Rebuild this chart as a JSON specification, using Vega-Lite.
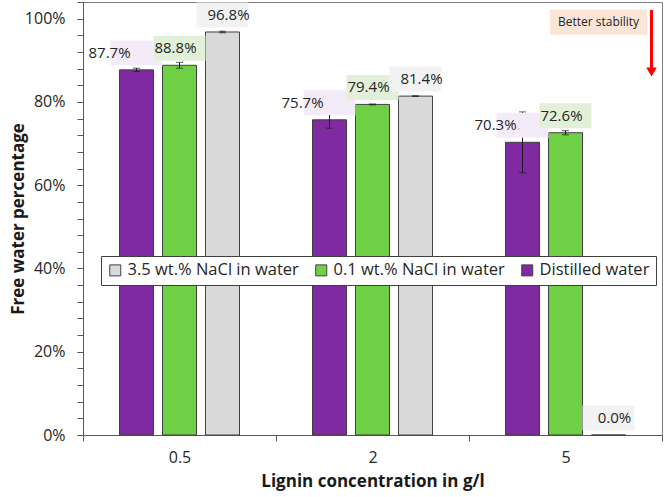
{
  "$schema": "https://vega.github.io/schema/vega-lite/v6.json",
  "width": 579,
  "height": 433,
  "autosize": {"type": "none"},
  "padding": {"left": 83, "top": 2, "right": 2, "bottom": 62},
  "config": {
    "font": "Open Sans",
    "view": {"stroke": "#7f7f7f"},
    "axis": {"domainColor": "#595959", "tickColor": "#595959", "labelColor": "#262626", "titleColor": "#1a1a1a", "grid": false}
  },
  "data": {
    "values": [
      {"conc": "0.5", "series": "Distilled water", "value": 0.877, "lo": 0.873, "hi": 0.881},
      {"conc": "0.5", "series": "0.1 wt.% NaCl in water", "value": 0.888, "lo": 0.881, "hi": 0.895},
      {"conc": "0.5", "series": "3.5 wt.% NaCl in water", "value": 0.968, "lo": 0.966, "hi": 0.970},
      {"conc": "2", "series": "Distilled water", "value": 0.757, "lo": 0.737, "hi": 0.777},
      {"conc": "2", "series": "0.1 wt.% NaCl in water", "value": 0.794, "lo": 0.793, "hi": 0.795},
      {"conc": "2", "series": "3.5 wt.% NaCl in water", "value": 0.814, "lo": 0.813, "hi": 0.815},
      {"conc": "5", "series": "Distilled water", "value": 0.703, "lo": 0.630, "hi": 0.776},
      {"conc": "5", "series": "0.1 wt.% NaCl in water", "value": 0.726, "lo": 0.721, "hi": 0.731},
      {"conc": "5", "series": "3.5 wt.% NaCl in water", "value": 0.0}
    ]
  },
  "encoding": {
    "x": {
      "field": "conc", "type": "nominal",
      "scale": {"domain": ["0.5", "2", "5"], "paddingInner": 0, "paddingOuter": 0},
      "axis": {"title": "Lignin concentration in g/l", "tickBand": "extent", "labelAngle": 0, "tickSize": 6, "labelPadding": 8, "labelFontSize": 16, "titleFontSize": 17, "titleFontWeight": "bold", "titlePadding": 8}
    },
    "xOffset": {
      "field": "series", "type": "nominal",
      "scale": {"domain": ["Distilled water", "0.1 wt.% NaCl in water", "3.5 wt.% NaCl in water"], "paddingInner": 0.209, "paddingOuter": 0.849}
    }
  },
  "resolve": {"axis": {"y": "independent"}},
  "layer": [
    {
      "layer": [
        {
          "mark": {"type": "bar", "stroke": "#404040", "strokeWidth": 1},
          "encoding": {
            "y": {
              "field": "value", "type": "quantitative",
              "scale": {"domain": [0, 1.04], "nice": false},
              "axis": {
                "title": "Free water percentage",
                "orient": "left",
                "values": [0, 0.2, 0.4, 0.6, 0.8, 1],
                "format": ".0%",
                "labelOverlap": false,
                "tickSize": 6, "labelPadding": 12, "labelFontSize": 16,
                "titleFontSize": 17, "titleFontWeight": "bold", "titlePadding": -3
              }
            },
            "color": {
              "field": "series", "type": "nominal",
              "scale": {"domain": ["3.5 wt.% NaCl in water", "0.1 wt.% NaCl in water", "Distilled water"], "range": ["#d9d9d9", "#6fd046", "#7f2aa1"]},
              "legend": {"title": null, "orient": "none", "legendX": 18, "legendY": 254, "direction": "horizontal", "fillColor": "white", "strokeColor": "#404040", "padding": 6, "labelFontSize": 16.5, "labelLimit": 300, "symbolSize": 121, "symbolType": "square", "symbolStrokeColor": "#404040", "symbolStrokeWidth": 1, "columnPadding": 14, "labelOffset": 4, "labelColor": "#262626"}
            }
          }
        },
        {
          "transform": [{"filter": {"field": "hi", "valid": true}}],
          "mark": {"type": "rule", "color": "#1a1a1a", "strokeWidth": 1},
          "encoding": {"y": {"field": "lo", "type": "quantitative"}, "y2": {"field": "hi"}}
        },
        {
          "transform": [{"filter": {"field": "hi", "valid": true}}],
          "mark": {"type": "tick", "color": "#1a1a1a", "size": 7, "thickness": 1},
          "encoding": {"y": {"field": "lo", "type": "quantitative"}}
        },
        {
          "transform": [{"filter": {"field": "hi", "valid": true}}],
          "mark": {"type": "tick", "color": "#1a1a1a", "size": 7, "thickness": 1},
          "encoding": {"y": {"field": "hi", "type": "quantitative"}}
        },
        {
          "transform": [{"filter": "datum.series == 'Distilled water'"}],
          "mark": {"type": "point", "shape": "M-1,-0.48H1V0.48H-1Z", "size": 2704, "filled": true, "opacity": 1, "fill": "#f3ecf8", "strokeWidth": 0, "xOffset": -27, "yOffset": -17},
          "encoding": {"y": {"field": "value", "type": "quantitative"}}
        },
        {
          "transform": [{"filter": "datum.series == '0.1 wt.% NaCl in water'"}],
          "mark": {"type": "point", "shape": "M-1,-0.48H1V0.48H-1Z", "size": 2704, "filled": true, "opacity": 1, "fill": "#e2f0d9", "strokeWidth": 0, "xOffset": -4, "yOffset": -17},
          "encoding": {"y": {"field": "value", "type": "quantitative"}}
        },
        {
          "transform": [{"filter": "datum.series == '3.5 wt.% NaCl in water'"}],
          "mark": {"type": "point", "shape": "M-1,-0.48H1V0.48H-1Z", "size": 2704, "filled": true, "opacity": 1, "fill": "#f2f2f2", "strokeWidth": 0, "xOffset": 6, "yOffset": -17},
          "encoding": {"y": {"field": "value", "type": "quantitative"}}
        },
        {
          "transform": [{"filter": "datum.series == 'Distilled water'"}],
          "mark": {"type": "text", "fontSize": 15, "color": "#262626", "baseline": "middle", "align": "center", "dx": -27, "dy": -17},
          "encoding": {"y": {"field": "value", "type": "quantitative"}, "text": {"field": "value", "type": "quantitative", "format": ".1%"}}
        },
        {
          "transform": [{"filter": "datum.series == '0.1 wt.% NaCl in water'"}],
          "mark": {"type": "text", "fontSize": 15, "color": "#262626", "baseline": "middle", "align": "center", "dx": -4, "dy": -17},
          "encoding": {"y": {"field": "value", "type": "quantitative"}, "text": {"field": "value", "type": "quantitative", "format": ".1%"}}
        },
        {
          "transform": [{"filter": "datum.series == '3.5 wt.% NaCl in water'"}],
          "mark": {"type": "text", "fontSize": 15, "color": "#262626", "baseline": "middle", "align": "center", "dx": 6, "dy": -17},
          "encoding": {"y": {"field": "value", "type": "quantitative"}, "text": {"field": "value", "type": "quantitative", "format": ".1%"}}
        },
        {
          "data": {"values": [{"note": "Better stability"}]},
          "mark": {"type": "point", "shape": "M-1,-0.26H1V0.26H-1Z", "size": 9409, "filled": true, "opacity": 1, "fill": "#fbe5d6", "strokeWidth": 0, "xOffset": 33},
          "encoding": {"x": {"datum": "5"}, "xOffset": null, "y": {"datum": 0.9916}}
        },
        {
          "data": {"values": [{"note": "Better stability"}]},
          "mark": {"type": "text", "fontSize": 12, "color": "#262626", "baseline": "middle", "align": "center", "dx": 33},
          "encoding": {"x": {"datum": "5"}, "xOffset": null, "y": {"datum": 0.9916}, "text": {"field": "note"}}
        },
        {
          "data": {"values": [{"note": "arrow"}]},
          "mark": {"type": "rule", "color": "#ff0000", "strokeWidth": 3, "xOffset": 86},
          "encoding": {"x": {"datum": "5"}, "xOffset": null, "y": {"datum": 1.0208}, "y2": {"datum": 0.8815}}
        },
        {
          "data": {"values": [{"note": "arrow"}]},
          "mark": {"type": "point", "shape": "triangle-down", "size": 110, "filled": true, "opacity": 1, "color": "#ff0000", "xOffset": 86},
          "encoding": {"x": {"datum": "5"}, "xOffset": null, "y": {"datum": 0.8719}}
        }
      ]
    },
    {
      "data": {"values": [{"note": "minor ticks"}]},
      "mark": {"type": "point", "opacity": 0},
      "encoding": {
        "x": {"datum": "0.5"},
        "xOffset": null,
        "y": {
          "datum": 0, "type": "quantitative",
          "axis": {
            "orient": "left", "title": null, "labels": false, "domain": false,
            "values": [0, 0.04, 0.08, 0.12, 0.16, 0.2, 0.24, 0.28, 0.32, 0.36, 0.4, 0.44, 0.48, 0.52, 0.56, 0.6, 0.64, 0.68, 0.72, 0.76, 0.8, 0.84, 0.88, 0.92, 0.96, 1, 1.04],
            "tickSize": 6
          }
        }
      }
    }
  ]
}
